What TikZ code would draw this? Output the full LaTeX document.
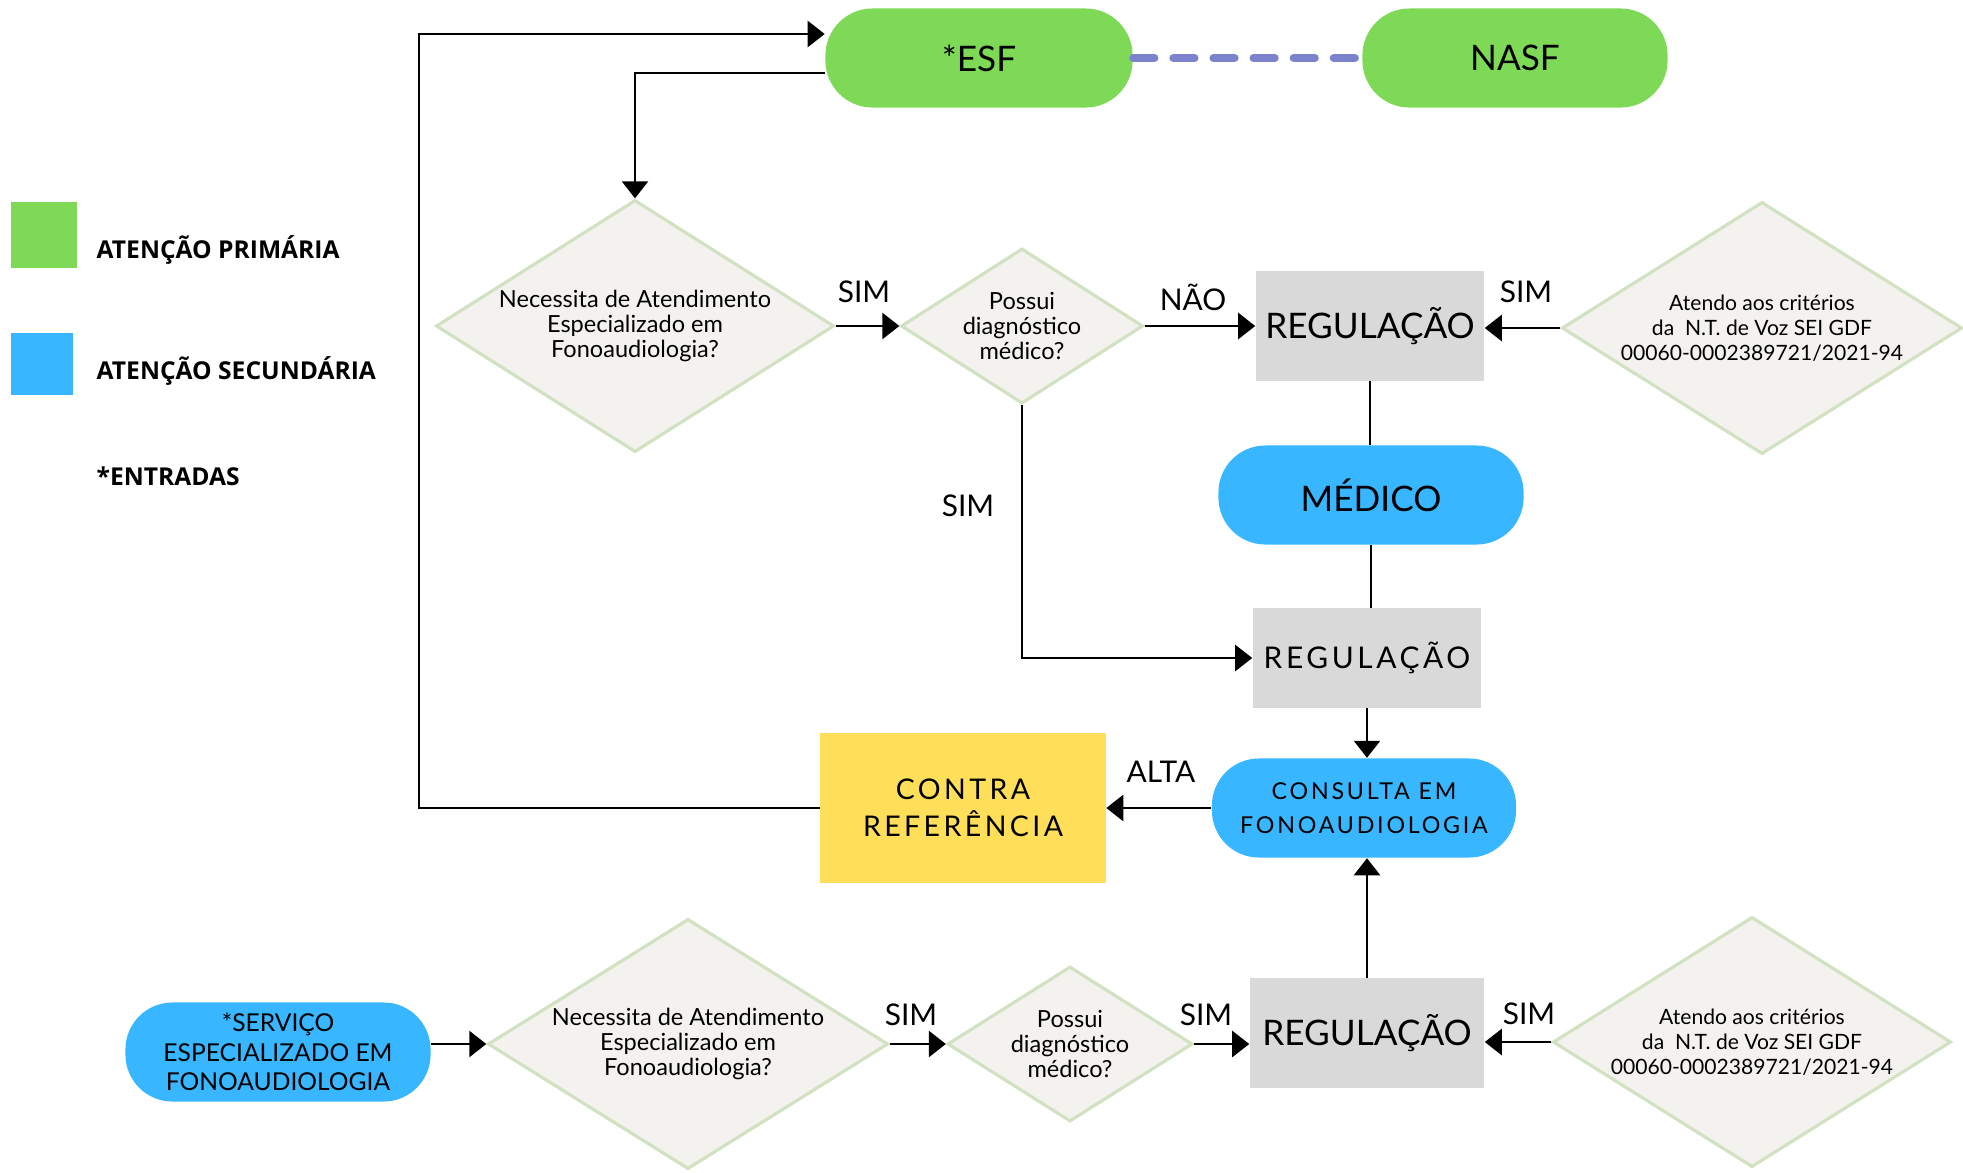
\documentclass[tikz,border=0pt]{standalone}
\usepackage{fontspec}
\setmainfont{Lato}
\newfontfamily\spacedfont{Lato}[LetterSpace=12]
\newfontfamily\legendfont{Open Sans}
\usetikzlibrary{shapes.geometric,arrows.meta}

\definecolor{primgreen}{HTML}{7ED957}
\definecolor{secblue}{HTML}{38B6FF}
\definecolor{contrayellow}{HTML}{FFDE59}
\definecolor{reggray}{HTML}{D9D9D9}
\definecolor{qfill}{HTML}{F4F2EE}
\definecolor{qborder}{HTML}{D2E1C1}
\definecolor{nasfdash}{HTML}{7A83CC}

\tikzset{
  flow/.style={draw=black, line width=0.7pt, -{Triangle[length=0.17cm,width=0.26cm]}},
  link/.style={draw=black, line width=0.7pt},
  dashlink/.style={draw=nasfdash, line width=2.3pt, line cap=round, dash pattern=on 6pt off 5.4pt},
  pill/.style={rounded corners=0.47cm, minimum width=3.05cm, minimum height=0.99cm, inner sep=0pt, align=center},
  prim/.style={pill, fill=primgreen},
  sec/.style={pill, fill=secblue},
  regbox/.style={fill=reggray, minimum width=2.28cm, minimum height=1.09cm, inner sep=0pt, font=\fontsize{10}{12}\selectfont},
  question/.style={diamond, aspect=1.58, fill=qfill, draw=qborder, line width=0.9pt, inner sep=0pt, align=center, font=\fontsize{6.7}{7}\selectfont},
  criteria/.style={question, font=\fontsize{6}{7.1}\selectfont},
  answer/.style={inner sep=0pt, font=\fontsize{8.5}{10}\selectfont},
  legendtext/.style={anchor=west, inner sep=0pt, font=\legendfont\bfseries\fontsize{7}{8}\selectfont},
}

\begin{document}
\begin{tikzpicture}[
        x=0.01cm,
        y=-0.01cm]
\fill[white] (0,0) rectangle (1963,1172);
\useasboundingbox (0,0) rectangle (1963,1172);

% legend
\node[fill=primgreen, minimum width=0.66cm, minimum height=0.66cm, inner sep=0pt] (keyprim) at (44,235) {};
\node[fill=secblue, minimum width=0.62cm, minimum height=0.62cm, inner sep=0pt] (keysec) at (42,364) {};
\node[legendtext] (keyprimtext) at (96,250) {ATENÇÃO PRIMÁRIA};
\node[legendtext] (keysectext) at (96,371) {ATENÇÃO SECUNDÁRIA};
\node[legendtext] (keyentry) at (96,476) {*ENTRADAS};

% atencao primaria
\node[prim, minimum width=3.07cm, font=\fontsize{10}{12}\selectfont] (esf) at (979,58) {*ESF};
\node[prim, font=\fontsize{10}{12}\selectfont] (nasf) at (1515,58) {NASF};
\draw[dashlink] (esf) -- (nasf);

% primeira linha
\node[question, minimum width=3.98cm, minimum height=2.52cm] (nec1) at (635,326) {Necessita de Atendimento\\Especializado em\\Fonoaudiologia?};
\node[question, minimum width=2.42cm, minimum height=1.55cm] (diag1) at (1022,326) {Possui\\diagnóstico\\médico?};
\node[regbox] (reg1) at (1370,326) {REGULAÇÃO};
\node[criteria, minimum width=4cm, minimum height=2.52cm] (crit1) at (1762,328) {Atendo aos critérios\\da\ \ N.T. de Voz SEI GDF\\00060-0002389721/2021-94};

% coluna central
\node[sec, font=\fontsize{10}{12}\selectfont] (medico) at (1371,495) {MÉDICO};
\node[regbox, minimum height=0.99cm, font=\spacedfont\fontsize{8.5}{10}\selectfont] (reg2) at (1367,658) {REGULAÇÃO};
\node[sec, minimum width=3.04cm, font=\spacedfont\fontsize{6.6}{9.5}\selectfont] (consulta) at (1364,808) {CONSULTA EM\\FONOAUDIOLOGIA};
\node[fill=contrayellow, minimum width=2.85cm, minimum height=1.49cm, inner sep=0pt, align=center, font=\spacedfont\fontsize{8.1}{10.4}\selectfont] (contra) at (963,808) {CONTRA\\REFERÊNCIA};

% segunda linha
\node[sec, font=\fontsize{7}{8.4}\selectfont] (servico) at (278,1052) {*SERVIÇO\\ESPECIALIZADO EM\\FONOAUDIOLOGIA};
\node[question, minimum width=4cm, minimum height=2.5cm] (nec2) at (688,1044) {Necessita de Atendimento\\Especializado em\\Fonoaudiologia?};
\node[question, minimum width=2.45cm, minimum height=1.55cm] (diag2) at (1070,1044) {Possui\\diagnóstico\\médico?};
\node[regbox, minimum width=2.34cm] (reg3) at (1367,1033) {REGULAÇÃO};
\node[criteria, minimum width=3.98cm, minimum height=2.5cm] (crit2) at (1752,1042) {Atendo aos critérios\\da\ \ N.T. de Voz SEI GDF\\00060-0002389721/2021-94};

% conexoes
\coordinate (back) at (419,34);
\draw[flow] (contra.west) -| (back) -- (back -| esf.west);
\draw[flow] ([yshift=-0.15cm]esf.west) -| (nec1.north);
\draw[flow] (nec1.east) -- (diag1.west);
\draw[flow] (diag1.east) -- (diag1.east -| reg1.west);
\draw[flow] (crit1.west) -- (crit1.west -| reg1.east);
\draw[link] (reg1.south) -- (reg1.south |- medico.north);
\draw[link] (medico.south) -- (medico.south |- reg2.north);
\draw[flow] (diag1.south) |- (reg2.west);
\draw[flow] (reg2.south) -- (reg2.south |- consulta.north);
\draw[flow] (consulta.west) -- (consulta.west -| contra.east);
\draw[flow] (reg3.north) -- (reg3.north |- consulta.south);
\draw[flow] (servico.east |- nec2.west) -- (nec2.west);
\draw[flow] (nec2.east) -- (diag2.west);
\draw[flow] (diag2.east) -- (diag2.east -| reg3.west);
\draw[flow] (crit2.west) -- (crit2.west -| reg3.east);

% rotulos
\node[answer] (simA) at (864,292) {SIM};
\node[answer] (naoA) at (1193,297) {NÃO};
\node[answer] (simB) at (1526,292) {SIM};
\node[answer] (simC) at (968,506) {SIM};
\node[answer] (alta) at (1161,772) {ALTA};
\node[answer] (simD) at (911,1015) {SIM};
\node[answer] (simE) at (1206,1015) {SIM};
\node[answer] (simF) at (1529,1014) {SIM};
\end{tikzpicture}
\end{document}
